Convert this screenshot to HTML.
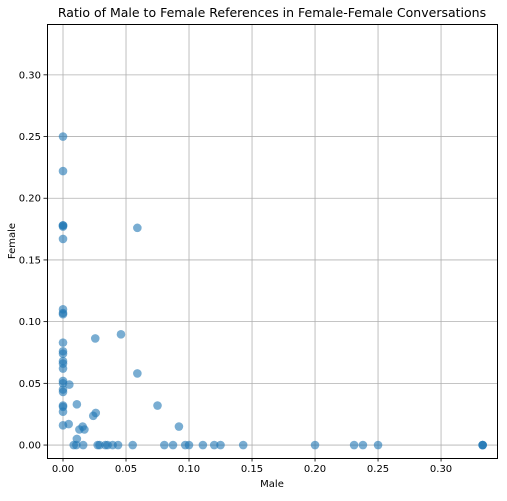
<!DOCTYPE html>
<html><head><meta charset="utf-8"><style>
body{margin:0;background:#fff;font-family:"Liberation Sans","DejaVu Sans",sans-serif;}
text{font-family:"DejaVu Sans","Liberation Sans",sans-serif;}
</style></head><body>
<svg id="chart" width="507" height="496" xmlns="http://www.w3.org/2000/svg">
<text x="272" y="17" text-anchor="middle" font-size="12.5">Ratio of Male to Female References in Female-Female Conversations</text>
<g id="grid"></g>
<g id="ticks"></g>
<g id="points"></g>
<rect x="47.5" y="24.5" width="450" height="434" fill="none" stroke="#000" stroke-width="1"/>
<text x="272" y="487" text-anchor="middle" font-size="10">Male</text>
<text transform="translate(15,241) rotate(-90)" text-anchor="middle" font-size="10">Female</text>
</svg>
<script>
const xTicks=[0,0.05,0.1,0.15,0.2,0.25,0.3];
const xTickLabels=["0.00","0.05","0.10","0.15","0.20","0.25","0.30"];
const yTicks=[0,0.05,0.1,0.15,0.2,0.25,0.3];
const yTickLabels=["0.00","0.05","0.10","0.15","0.20","0.25","0.30"];
const maleValues=[0,0,0,0,0,0,0,0,0,0,0,0,0,0,0,0,0,0,0,0,0,0,0,
0.005,0.011,0.0256,0.046,0.059,0.075,0.092,0.024,0.026,0.0045,0.013,0.0156,0.017,0.011,0.059,
0.0085,0.0106,0.016,0.0275,0.029,0.0336,0.0354,0.0394,0.0437,0.0553,0.0804,0.0873,0.097,0.100,0.111,0.12,0.125,0.143,0.2,0.231,0.238,0.25,0.333,0.333,0.333];
const femaleValues=[0.25,0.222,0.178,0.178,0.177,0.167,0.110,0.107,0.106,0.083,0.076,0.074,0.068,0.066,0.062,0.052,0.050,0.045,0.043,0.032,0.031,0.027,0.016,
0.049,0.033,0.0864,0.0897,0.058,0.032,0.015,0.0237,0.026,0.017,0.0126,0.015,0.0126,0.005,0.176,
0,0,0,0,0,0,0,0,0,0,0,0,0,0,0,0,0,0,0,0,0,0,0,0,0];
const ns="http://www.w3.org/2000/svg";
const X0=47,X1=497,Y0=458,Y1=24,xmin=-0.0127,xmax=0.3444,ymin=-0.0105,ymax=0.3412;
function sx(v){return X0+(v-xmin)/(xmax-xmin)*(X1-X0);}
function sy(v){return Y0-(v-ymin)/(ymax-ymin)*(Y0-Y1);}
function mk(t,a,p){const e=document.createElementNS(ns,t);for(const k in a)e.setAttribute(k,a[k]);p.appendChild(e);return e;}
const grid=document.getElementById('grid'),ticks=document.getElementById('ticks'),pts=document.getElementById('points');
xTicks.forEach((v,i)=>{const x=sx(v);
const g=mk('line',{x1:x,x2:x,y1:Y1,y2:Y0,stroke:'#b0b0b0','stroke-width':0.8},grid);


mk('line',{x1:x,x2:x,y1:Y0,y2:Y0+3.5,stroke:'#000','stroke-width':0.8},ticks);
const t=mk('text',{x:x,y:Y0+14,'text-anchor':'middle','font-size':10},ticks);t.textContent=xTickLabels[i];

});
yTicks.forEach((v,i)=>{const y=sy(v);
const g=mk('line',{x1:X0,x2:X1,y1:y,y2:y,stroke:'#b0b0b0','stroke-width':0.8},grid);


mk('line',{x1:X0-3.5,x2:X0,y1:y,y2:y,stroke:'#000','stroke-width':0.8},ticks);
const t=mk('text',{x:X0-6,y:y+3.5,'text-anchor':'end','font-size':10},ticks);t.textContent=yTickLabels[i];

});
maleValues.forEach((m,i)=>{const c=mk('circle',{cx:sx(m),cy:sy(femaleValues[i]),r:4.3,fill:'#1f77b4','fill-opacity':0.6},pts);

});
</script>
</body></html>
